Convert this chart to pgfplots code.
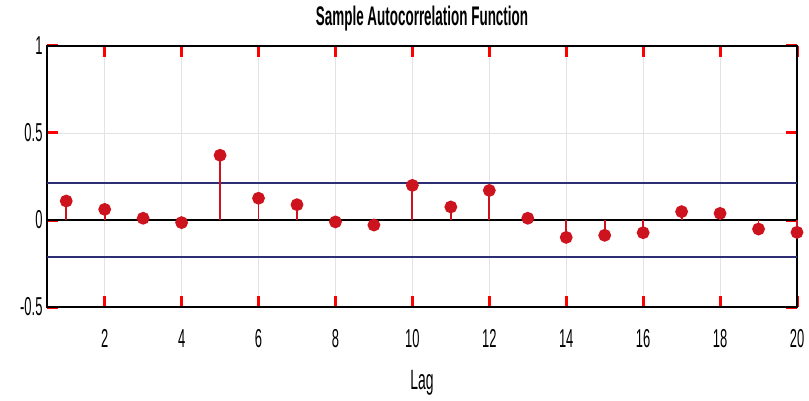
\documentclass[border=0pt]{standalone}
\usepackage{pgfplots}
\pgfplotsset{compat=1.18}
\usepackage{pgfplotstable}
\usepackage{fontspec}
\setmainfont{Liberation Sans}[FakeStretch=0.5]

\definecolor{stemred}{RGB}{205,20,30}
\definecolor{boundblue}{RGB}{45,45,115}

% sample autocorrelation, lags 1..20
\pgfplotstableread{
lag acf
1   0.109
2   0.061
3   0.010
4  -0.015
5   0.372
6   0.125
7   0.088
8  -0.011
9  -0.029
10  0.199
11  0.075
12  0.170
13  0.010
14 -0.100
15 -0.088
16 -0.073
17  0.048
18  0.038
19 -0.052
20 -0.071
}\acftable

\begin{document}
\begin{tikzpicture}
\useasboundingbox (-47bp,-94bp) rectangle (762bp,307bp);
\begin{axis}[
  scale only axis, width=750bp, height=261bp,
  xmin=0.5, xmax=20, ymin=-0.5, ymax=1,
  xtick={2,4,...,20}, ytick={-0.5,0,0.5,1},
  tick align=inside, major tick length=11bp,
  xmajorgrids, ymajorgrids,
  grid style={gray!22, line width=0.8bp},
  axis line style={line width=1.6bp},
  tick style={red, line width=3bp},
  ticklabel style={font=\fontsize{26}{30}\selectfont},
  /pgf/number format/assume math mode=true,
  xticklabel style={yshift=-19bp},
  yticklabel style={xshift=-1bp},
  title={Sample Autocorrelation Function},
  title style={font=\fontsize{27}{32}\selectfont\bfseries,
    at={(0.5,1)}, anchor=base, yshift=15bp},
  xlabel={Lag},
  xlabel style={font=\fontsize{28}{32}\selectfont,
    at={(0.5,0)}, anchor=base, yshift=-82bp},
  clip=false,
]
  % confidence bounds
  \addplot[boundblue, line width=1.8bp] coordinates {(0.5,0.212) (20,0.212)};
  \addplot[boundblue, line width=1.8bp] coordinates {(0.5,-0.212) (20,-0.212)};
  % zero line
  \addplot[black, line width=2bp] coordinates {(0.5,0) (20,0)};
  % stems
  \addplot[ycomb, stemred, line width=1.8bp, mark=*, mark size=5.5bp,
    mark options={fill=stemred, draw=stemred}] table[x=lag, y=acf] {\acftable};
\end{axis}
\end{tikzpicture}
\end{document}
